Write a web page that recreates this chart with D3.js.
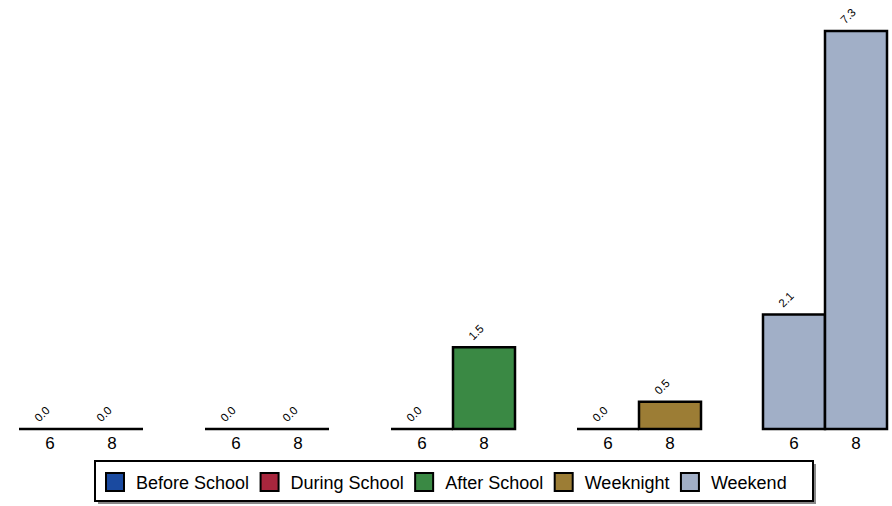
<!DOCTYPE html>
<html><head><meta charset="utf-8">
<script src="https://cdn.jsdelivr.net/npm/d3@7"></script>
<style>body{margin:0;background:#fff}svg{display:block}</style>
</head><body>
<script>
const categories = ["Before School","During School","After School","Weeknight","Weekend"];
const grades = ["6","8"];
const grade6 = [0.0, 0.0, 0.0, 0.0, 2.1];
const grade8 = [0.0, 0.0, 1.5, 0.5, 7.3];
const colors = ["#1a4aa0","#a8263d","#3a8944","#9c7d35","#a1afc7"];

const W = 892, H = 506;
const svg = d3.select("body").append("svg").attr("width", W).attr("height", H);

const x0 = d3.scaleBand().domain(categories).range([19, 887]).paddingInner(1/3).paddingOuter(0);
const x1 = d3.scaleBand().domain(grades).range([0, x0.bandwidth()]);
const y = d3.scaleLinear().domain([0, 7.3]).range([429, 31]);

const data = [];
categories.forEach((c, i) => {
  data.push({cat: c, grade: "6", v: grade6[i], color: colors[i]});
  data.push({cat: c, grade: "8", v: grade8[i], color: colors[i]});
});

const g = svg.append("g");
g.selectAll("path.bar").data(data).join("path")
  .attr("class", "bar")
  .attr("d", d => {
    const xa = x0(d.cat) + x1(d.grade), xb = xa + x1.bandwidth();
    return `M${xa},${y(0)}V${y(d.v)}H${xb}V${y(0)}Z`;
  })
  .attr("fill", d => d.color)
  .attr("stroke", "#000")
  .attr("stroke-width", 2.5)
  .attr("stroke-linejoin", "miter");

g.selectAll("text.val").data(data).join("text")
  .attr("class", "val")
  .attr("transform", d => {
    const cx = x0(d.cat) + x1(d.grade) + x1.bandwidth() / 2 - 8;
    const cy = y(d.v) - 15;
    return `translate(${cx},${cy}) rotate(-45)`;
  })
  .attr("text-anchor", "middle")
  .attr("dominant-baseline", "central")
  .attr("font-family", "Liberation Sans, Arial, sans-serif")
  .attr("font-size", 11.5)
  .attr("fill", "#000")
  .text(d => d.v.toFixed(1));

// grade tick labels via axis per group
categories.forEach(c => {
  const ax = d3.axisBottom(x1).tickSize(0).tickPadding(0);
  const a = svg.append("g").attr("transform", `translate(${x0(c)},${y(0) + 4})`).call(ax);
  a.select(".domain").remove();
  a.selectAll("text").attr("font-family", "Liberation Sans, Arial, sans-serif")
    .attr("font-size", 17).attr("fill", "#000").attr("dy", "0.95em");
});

// legend
const lg = svg.append("g");
lg.append("rect").attr("x", 98).attr("y", 464).attr("width", 718).attr("height", 40).attr("fill", "#888");
lg.append("rect").attr("x", 95).attr("y", 461).attr("width", 718).attr("height", 40)
  .attr("fill", "#fff").attr("stroke", "#000").attr("stroke-width", 2);
let lx = 106;
categories.forEach((c, i) => {
  lg.append("rect").attr("x", lx).attr("y", 473).attr("width", 18).attr("height", 18)
    .attr("fill", colors[i]).attr("stroke", "#000").attr("stroke-width", 2);
  const t = lg.append("text").attr("x", lx + 30).attr("y", 488.5)
    .attr("font-family", "Liberation Sans, Arial, sans-serif").attr("font-size", 18)
    .attr("fill", "#000").text(c);
  lx += 30 + t.node().getComputedTextLength() + 11.5;
});
</script>
</body></html>
